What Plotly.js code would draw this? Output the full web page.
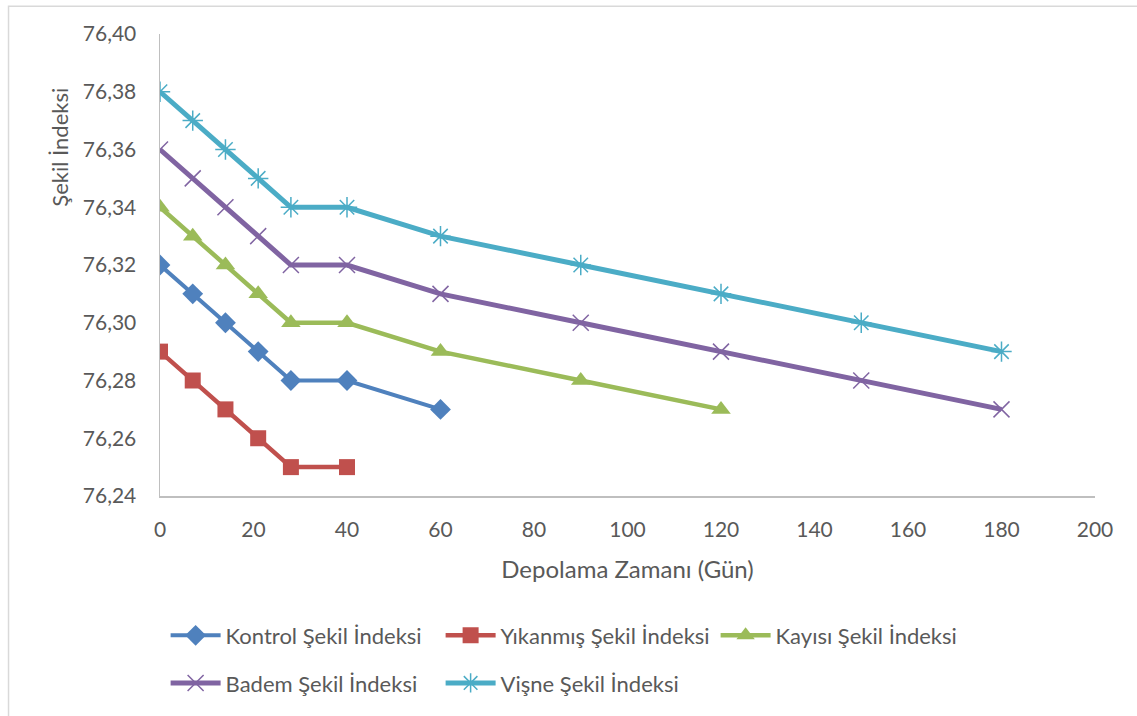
<!DOCTYPE html>
<html>
<head>
<meta charset="utf-8">
<script src="https://cdn.plot.ly/plotly-3.0.1.min.js"></script>
<style>html,body{margin:0;padding:0;background:#fff;}#chart{width:1137px;height:716px;}</style>
</head>
<body>
<div id="chart"></div>
<script>
// Data
var daysKontrol = [0, 7, 14, 21, 28, 40, 60];
var kontrol = [76.32, 76.31, 76.30, 76.29, 76.28, 76.28, 76.27];
var daysYikanmis = [0, 7, 14, 21, 28, 40];
var yikanmis = [76.29, 76.28, 76.27, 76.26, 76.25, 76.25];
var daysKayisi = [0, 7, 14, 21, 28, 40, 60, 90, 120];
var kayisi = [76.34, 76.33, 76.32, 76.31, 76.30, 76.30, 76.29, 76.28, 76.27];
var daysBadem = [0, 7, 14, 21, 28, 40, 60, 90, 120, 150, 180];
var badem = [76.36, 76.35, 76.34, 76.33, 76.32, 76.32, 76.31, 76.30, 76.29, 76.28, 76.27];
var daysVisne = [0, 7, 14, 21, 28, 40, 60, 90, 120, 150, 180];
var visne = [76.38, 76.37, 76.36, 76.35, 76.34, 76.34, 76.33, 76.32, 76.31, 76.30, 76.29];
var seriesNames = ["Kontrol Şekil İndeksi", "Yıkanmış Şekil İndeksi", "Kayısı Şekil İndeksi", "Badem Şekil İndeksi", "Vişne Şekil İndeksi"];
var xTicks = [0, 20, 40, 60, 80, 100, 120, 140, 160, 180, 200];
var yTicks = [76.24, 76.26, 76.28, 76.30, 76.32, 76.34, 76.36, 76.38, 76.40];
var yTickText = yTicks.map(function(v){ return v.toFixed(2).replace('.', ','); });

var FONT = 'Lato, "Open Sans", sans-serif';
var TXT = '#595959';

function mk(x, y, name, color, symbol, size, lw, legend, mlw) {
  return {
    x: x, y: y, name: name, type: 'scatter', mode: 'lines+markers',
    line: {color: color, width: lw},
    marker: {color: color, symbol: symbol, size: size, line: {color: color, width: mlw || 0}},
    legend: legend
  };
}

var traces = [
  mk(daysKontrol, kontrol, seriesNames[0], '#4F81BD', 'diamond', 16, 4, 'legend'),
  mk(daysYikanmis, yikanmis, seriesNames[1], '#C0504D', 'square', 16, 4.5, 'legend'),
  mk(daysKayisi, kayisi, seriesNames[2], '#9BBB59', 'triangle-up', 17, 4.5, 'legend'),
  mk(daysBadem, badem, seriesNames[3], '#8064A2', 'x-thin-open', 16, 5, 'legend2', 1.5),
  mk(daysVisne, visne, seriesNames[4], '#4BACC6', 'asterisk-open', 17, 5, 'legend2', 1.5)
];

var legendCommon = {
  orientation: 'h', xanchor: 'left', yanchor: 'middle',
  font: {family: FONT, size: 22, color: TXT},
  bgcolor: 'rgba(0,0,0,0)', entrywidth: 210, entrywidthmode: 'pixels',
  itemwidth: 50
};

var layout = {
  width: 1137, height: 716,
  margin: {l: 160, r: 42, t: 34, b: 218},
  paper_bgcolor: '#fff', plot_bgcolor: '#fff',
  font: {family: FONT, color: TXT},
  showlegend: true,
  xaxis: {
    range: [0, 200], tickvals: xTicks, ticktext: xTicks.map(String),
    showgrid: false, zeroline: false, showline: true, linecolor: '#BFBFBF', linewidth: 1.5,
    ticks: 'outside', ticklen: 14, tickcolor: 'rgba(0,0,0,0)',
    tickfont: {family: FONT, size: 21, color: TXT},
    title: {text: 'Depolama Zamanı (Gün)', font: {family: FONT, size: 24, color: TXT}, standoff: 21}
  },
  yaxis: {
    range: [76.24, 76.40], tickvals: yTicks, ticktext: yTickText,
    showgrid: false, zeroline: false, showline: true, linecolor: '#BFBFBF', linewidth: 1.5,
    ticks: 'outside', ticklen: 18, tickcolor: 'rgba(0,0,0,0)',
    tickfont: {family: FONT, size: 21, color: TXT}
  },
  legend: Object.assign({}, legendCommon, {x: 0.006, y: -0.302}),
  legend2: Object.assign({}, legendCommon, {x: 0.006, y: -0.405}),
  annotations: [{
    text: 'Şekil İndeksi', xref: 'paper', yref: 'paper', x: -0.107, y: 0.756,
    textangle: -90, showarrow: false, font: {family: FONT, size: 22, color: TXT},
    xanchor: 'center', yanchor: 'middle'
  }],
  shapes: [{
    type: 'rect', xref: 'paper', yref: 'paper',
    x0: -0.162, x1: 1.06, y0: -0.5, y1: 1.06,
    line: {color: '#D9D9D9', width: 1.5}, fillcolor: 'rgba(0,0,0,0)', layer: 'below'
  }]
};

Plotly.newPlot('chart', traces, layout, {displayModeBar: false, staticPlot: true});
</script>
</body>
</html>
